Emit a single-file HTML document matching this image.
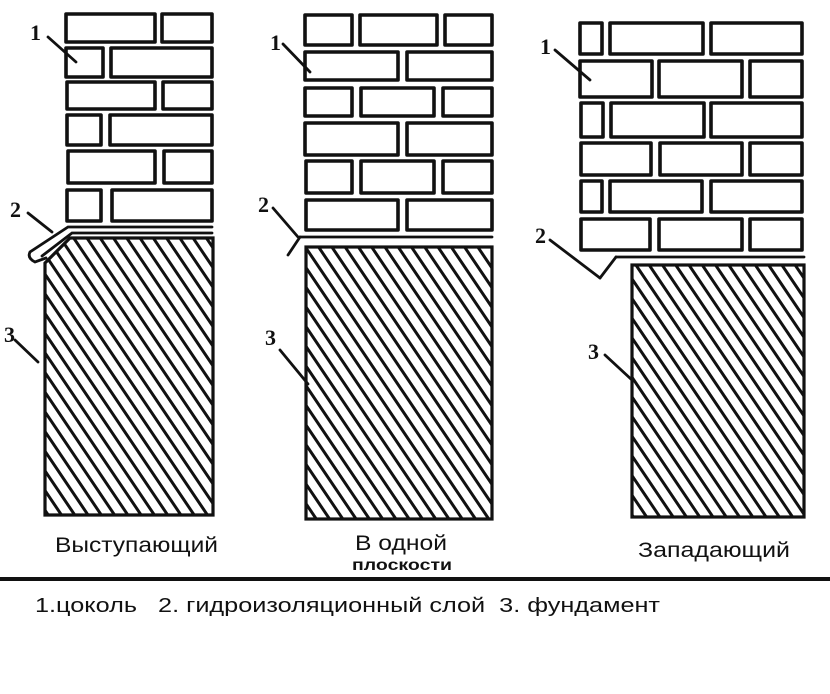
<!DOCTYPE html>
<html><head><meta charset="utf-8"><style>
html,body{margin:0;padding:0;background:#fff;}
svg{display:block;}
text{font-family:"Liberation Sans Narrow","Liberation Sans",sans-serif;fill:#111;}
.n{font-family:"Liberation Serif",serif;font-weight:bold;font-size:22px;}
</style></head><body>
<svg width="830" height="694" viewBox="0 0 830 694" xmlns="http://www.w3.org/2000/svg">
<defs>
<pattern id="h" patternUnits="userSpaceOnUse" width="11" height="40" patternTransform="rotate(-34)">
<line x1="5" y1="0" x2="5" y2="40" stroke="#111" stroke-width="3"/>
</pattern>
</defs>
<g fill="#fff" stroke="#111" stroke-width="3.6" stroke-linejoin="round">
<rect x="66" y="14" width="89" height="28"/><rect x="162" y="14" width="50" height="28"/>
<rect x="66" y="48" width="37" height="29"/><rect x="111" y="48" width="101" height="29"/>
<rect x="67" y="82" width="88" height="27"/><rect x="163" y="82" width="49" height="27"/>
<rect x="67" y="115" width="34" height="30"/><rect x="110" y="115" width="102" height="30"/>
<rect x="68" y="151" width="87" height="32"/><rect x="164" y="151" width="48" height="32"/>
<rect x="67" y="190" width="34" height="31"/><rect x="112" y="190" width="100" height="31"/>
<rect x="305" y="15" width="47" height="30"/><rect x="360" y="15" width="77" height="30"/><rect x="445" y="15" width="47" height="30"/>
<rect x="305" y="52" width="93" height="28"/><rect x="407" y="52" width="85" height="28"/>
<rect x="305" y="88" width="47" height="28"/><rect x="361" y="88" width="73" height="28"/><rect x="443" y="88" width="49" height="28"/>
<rect x="305" y="123" width="93" height="32"/><rect x="407" y="123" width="85" height="32"/>
<rect x="306" y="161" width="46" height="32"/><rect x="361" y="161" width="73" height="32"/><rect x="443" y="161" width="49" height="32"/>
<rect x="306" y="200" width="92" height="30"/><rect x="407" y="200" width="85" height="30"/>
<rect x="580" y="23" width="22" height="31"/><rect x="610" y="23" width="93" height="31"/><rect x="711" y="23" width="91" height="31"/>
<rect x="580" y="61" width="72" height="36"/><rect x="659" y="61" width="83" height="36"/><rect x="750" y="61" width="52" height="36"/>
<rect x="581" y="103" width="22" height="34"/><rect x="611" y="103" width="93" height="34"/><rect x="711" y="103" width="91" height="34"/>
<rect x="581" y="143" width="70" height="32"/><rect x="660" y="143" width="82" height="32"/><rect x="750" y="143" width="52" height="32"/>
<rect x="581" y="181" width="21" height="31"/><rect x="610" y="181" width="92" height="31"/><rect x="711" y="181" width="91" height="31"/>
<rect x="581" y="219" width="69" height="31"/><rect x="659" y="219" width="83" height="31"/><rect x="750" y="219" width="52" height="31"/>
</g>
<g stroke="#111" stroke-width="3.2" fill="url(#h)">
<path d="M70 238 L213 238 L213 515 L45 515 L45 263 Z"/>
<rect x="306" y="247" width="186" height="272"/>
<rect x="632" y="265" width="172" height="252"/>
</g>
<g stroke="#111" stroke-width="2.8" fill="none" stroke-linecap="round">
<path d="M212 227 L68 227 L30 252 Q27 258 35 262 L46 258"/>
<path d="M212 233 L72 233 L42 256"/>
<line x1="300" y1="237" x2="492" y2="237"/>
<line x1="300" y1="237" x2="288" y2="255"/>
<line x1="616" y1="257" x2="804" y2="257"/>
<path d="M616 257 L600 278"/>
<line x1="48" y1="37" x2="76" y2="62"/>
<line x1="28" y1="213" x2="52" y2="232"/>
<line x1="15" y1="340" x2="38" y2="362"/>
<line x1="283" y1="44" x2="310" y2="72"/>
<line x1="273" y1="208" x2="298" y2="237"/>
<line x1="280" y1="350" x2="308" y2="384"/>
<line x1="555" y1="50" x2="590" y2="80"/>
<line x1="550" y1="240" x2="600" y2="278"/>
<line x1="605" y1="355" x2="632" y2="380"/>
</g>
<text class="n" x="30" y="40">1</text>
<text class="n" x="10" y="217">2</text>
<text class="n" x="4" y="342">3</text>
<text class="n" x="270" y="50">1</text>
<text class="n" x="258" y="212">2</text>
<text class="n" x="265" y="345">3</text>
<text class="n" x="540" y="54">1</text>
<text class="n" x="535" y="243">2</text>
<text class="n" x="588" y="359">3</text>
<text x="55" y="552" font-size="21" textLength="163" lengthAdjust="spacingAndGlyphs">Выступающий</text>
<text x="355" y="550" font-size="21" textLength="92" lengthAdjust="spacingAndGlyphs">В одной</text>
<text x="352" y="570" font-size="16" font-weight="bold" textLength="100" lengthAdjust="spacingAndGlyphs">плоскости</text>
<text x="638" y="557" font-size="21" textLength="152" lengthAdjust="spacingAndGlyphs">Западающий</text>
<rect x="0" y="577" width="830" height="4" fill="#111"/>
<text x="35" y="612" font-size="20" textLength="625" lengthAdjust="spacingAndGlyphs">1.цоколь&#160;&#160;&#160;2. гидроизоляционный слой&#160;&#160;3. фундамент</text>
</svg>
</body></html>
